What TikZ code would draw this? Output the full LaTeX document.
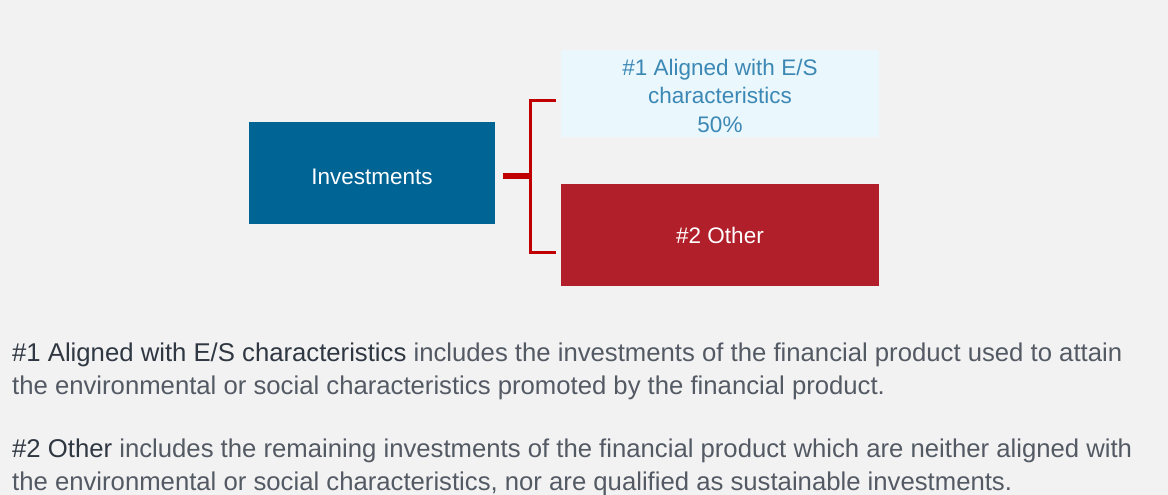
\documentclass[tikz,border=0pt]{standalone}
\usepackage{fontspec}
\setmainfont{Liberation Sans}
\definecolor{bg}{HTML}{F2F2F2}
\definecolor{invblue}{HTML}{006494}
\definecolor{lightbox}{HTML}{EAF7FC}
\definecolor{lighttext}{HTML}{3C88B5}
\definecolor{otherred}{HTML}{B01F2A}
\definecolor{brk}{HTML}{C00000}
\definecolor{bodytext}{HTML}{545A64}
\definecolor{boldtext}{HTML}{2F3742}
\begin{document}
\begin{tikzpicture}[x=1pt,y=-1pt,
  box/.style={minimum width=#1, inner sep=0pt, align=center, font=\fontsize{22.5}{28.5}\selectfont},
  boxtext/.style={inner sep=0pt, align=center, font=\fontsize{22.5}{28.5}\selectfont},
  bodyline/.style={anchor=base west, inner sep=0pt, text=bodytext, font=\fontsize{25.7}{30}\selectfont},
  brkline/.style={draw=brk, line width=3pt}]
\fill[bg] (0,0) rectangle (1168,495);
\useasboundingbox (0,0) rectangle (1168,495);
\node[box=246pt, minimum height=102pt, fill=invblue, text=white, text height=22pt, text depth=0pt] (inv) at (372,173) {Investments};
\node[box=318pt, minimum height=87pt, fill=lightbox] (al) at (720,93.5) {};
\node[boxtext, text=lighttext] (altext) at ([yshift=-2pt]al.center) {\#1 Aligned with E/S\\characteristics\\50\%};
\node[box=318pt, minimum height=102pt, fill=otherred, text=white] (oth) at (720,235) {\#2 Other};
\coordinate (bt) at (530,101);
\coordinate (bb) at (530,252);
\coordinate (bm) at (530,176);
\draw[brkline] ([xshift=-5pt]bt -| al.west) -- (bt) -- (bb) -- ([xshift=-5pt]bb -| oth.west);
\draw[draw=brk, line width=6pt] ([xshift=8pt]bm -| inv.east) -- (bm);
\node[bodyline] (t1) at (12,361) {\textcolor{boldtext}{\#1 Aligned with E/S characteristics} includes the investments of the financial product used to attain};
\node[bodyline] (t2) at (12,394) {the environmental or social characteristics promoted by the financial product.};
\node[bodyline] (t3) at (12,457) {\textcolor{boldtext}{\#2 Other} includes the remaining investments of the financial product which are neither aligned with};
\node[bodyline] (t4) at (12,490) {the environmental or social characteristics, nor are qualified as sustainable investments.};
\end{tikzpicture}
\end{document}
